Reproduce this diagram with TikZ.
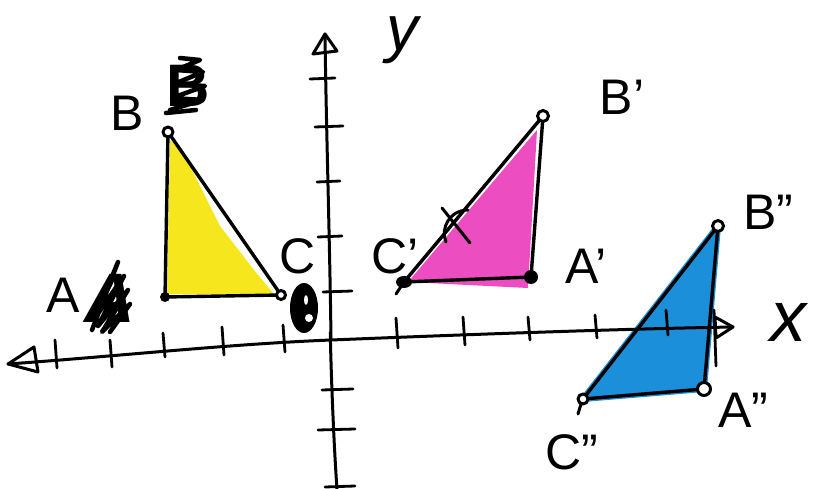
\documentclass[tikz,border=0pt]{standalone}
\usepackage{fontspec}
\setmainfont{Liberation Sans}
\definecolor{ylw}{HTML}{F6E61E}
\definecolor{pnk}{HTML}{EC4DC0}
\definecolor{blu}{HTML}{1C8FDA}
\begin{document}
\begin{tikzpicture}[x=1pt,y=-1pt,line cap=round,line join=round,
  pen/.style={line width=3.4pt,black},
  axisline/.style={line width=3pt,black},
  tickmark/.style={line width=2.8pt,black},
  lbl/.style={font=\fontsize{50}{50}\selectfont,inner sep=0pt},
  opendot/.style={draw=black,line width=3pt,fill=white},
  fulldot/.style={fill=black},
  scrib/.style={line width=4.5pt,black}]
\useasboundingbox (0,0) rectangle (827,489);
% points
\coordinate (B) at (168,132);
\coordinate (A) at (165,297);
\coordinate (C) at (281,295);
\coordinate (B1) at (543,116);
\coordinate (A1) at (531,277);
\coordinate (C1) at (404,282);
\coordinate (B2) at (718,226);
\coordinate (A2) at (704,389);
\coordinate (C2) at (583,399);
% fills
\fill[ylw] (170,140) -- (167,294) -- (274,294) -- (254,270) -- (220,226) -- (182,150) -- cycle;
\fill[pnk] (408,282) -- (528,288) -- (537,130) -- cycle;
\filldraw[blu,line width=6pt] (C2) -- (A2) -- (B2) -- cycle;
% axes
\coordinate (xl) at (8,364);
\coordinate (o) at (331,340);
\coordinate (xr) at (733,327);
\coordinate (yt) at (325,34);
\coordinate (yb) at (337,489);
\draw[axisline] (xl) .. controls (120,356) and (230,344) .. (o) .. controls (480,334) and (620,329) .. (xr);
\draw[axisline] (yb) .. controls (332,420) and (329,300) .. (o) .. controls (330,250) and (326,120) .. (yt);
% arrowheads
\draw[axisline] (xl) -- (34,347) -- (38,372) -- cycle;
\draw[axisline] (xr) -- (715,317) -- (716,338) -- cycle;
\draw[axisline] (yt) -- (313,54) -- (337,51) -- cycle;
% x ticks
\foreach \x/\a/\b in {55/340/368,110/340/367,163/333/357,222/327/355,283/325/352,
  396/318/348,463/317/345,528/317/340,595/315/338,666/310/335,714/310/366}
  \draw[tickmark] (\x,\a) -- (\x+2,\b);
% y ticks
\foreach \y/\a/\b in {79/310/335,127/315/343,182/317/340,237/318/342,292/323/352,
  390/322/353,430/318/355,487/325/355}
  \draw[tickmark] (\a,\y) -- (\b,\y-1);
% triangles
\draw[pen] (B) -- (A) -- (C) -- cycle;
\draw[pen] (C1) -- (A1) -- (B1) -- cycle;
\draw[pen] (C2) -- (A2) -- (B2) -- cycle;
% vertex dots
\draw[opendot] (B) circle (5);
\fill[fulldot] (A) circle (5);
\draw[opendot] (C) circle (4.5);
\fill[fulldot] (C1) ellipse (8 and 6);
\draw[line width=3pt] (C1) -- (396,294);
\fill[fulldot] (A1) circle (7);
\draw[opendot] (B1) circle (5.5);
\draw[opendot] (B2) circle (5.5);
\draw[opendot] (A2) circle (6.5);
\draw[opendot] (C2) circle (5);
\draw[line width=3pt] (581,404) -- (578,414);
% mark on C'B'
\draw[pen,line width=3pt] (442,208) -- (470,243);
\draw[pen,line width=3pt] (468,210) .. controls (450,210) and (440,228) .. (446,242);
% labels
\node[lbl] (lB) at (127,113) {B};
\node[lbl] (lA) at (63,295) {A};
\node[lbl] (lC) at (298,256) {C};
\node[lbl] (lC1) at (395,256) {C'};
\node[lbl] (lB1) at (622,97) {B'};
\node[lbl] (lA1) at (586,266) {A'};
\node[lbl] (lB2) at (768,212) {B''};
\node[lbl] (lA2) at (743,410) {A''};
\node[lbl] (lC2) at (572,452) {C''};
\node[inner sep=0pt,font=\fontsize{72}{72}\selectfont\itshape] (lx) at (788,322) {x};
\node[inner sep=0pt,font=\fontsize{64}{64}\selectfont\itshape] (ly) at (402,40) {y};
% scribbled letters
\node[inner sep=0pt,font=\fontsize{60}{60}\selectfont\bfseries] (sB) at (188,86) {B};
\draw[scrib] (170,110) -- (203,100) -- (172,98) -- (205,86) -- (174,84) -- (203,72) -- (176,70) -- (200,60) -- (180,58);
\draw[scrib] (166,113) -- (196,110);
\node[inner sep=0pt,font=\fontsize{70}{70}\selectfont\bfseries\itshape] (sA) at (110,298) {A};
\draw[scrib] (92,330) -- (118,262) -- (95,318) -- (124,276) -- (98,326) -- (128,290) -- (102,332) -- (130,304) -- (110,332);
\fill[black] (304,308) ellipse (14 and 25);
\fill[white] (309,318) circle (4);
\fill[white] (306,300) ellipse (2 and 5);
\end{tikzpicture}
\end{document}
